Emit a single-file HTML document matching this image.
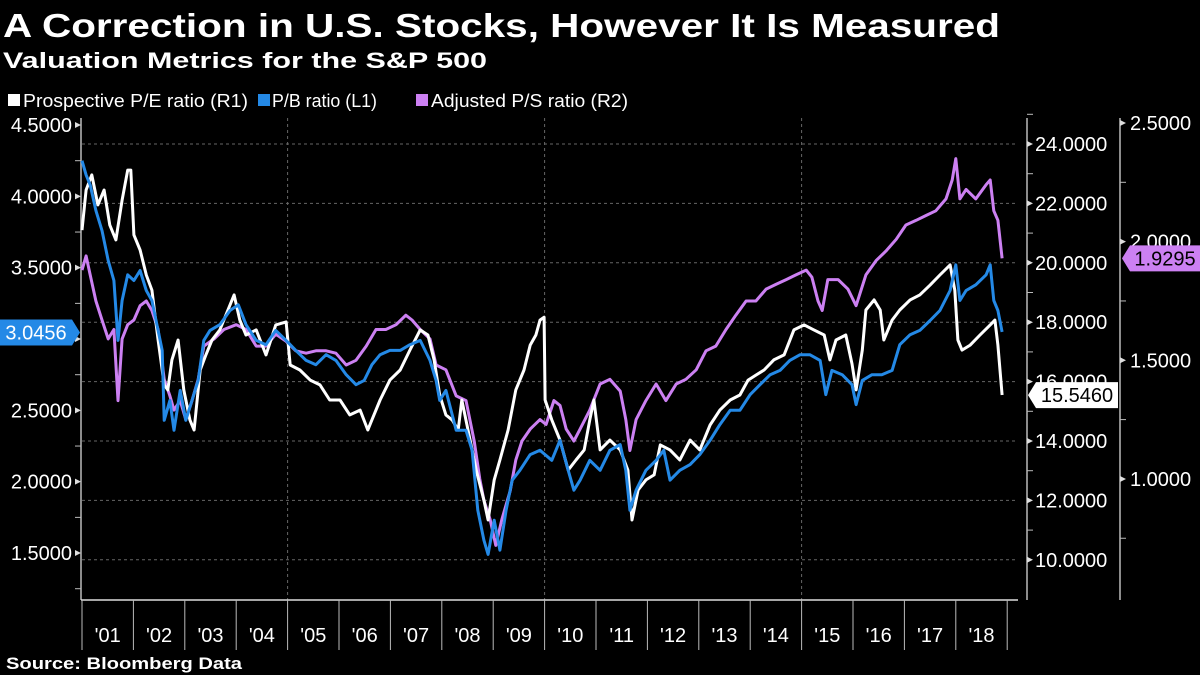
<!DOCTYPE html>
<html><head><meta charset="utf-8"><style>
html,body{margin:0;padding:0;background:#000;}
svg{display:block;font-family:"Liberation Sans",sans-serif;}
</style></head><body>
<svg id="chart" width="1200" height="675" viewBox="0 0 1200 675" xmlns="http://www.w3.org/2000/svg">
<rect x="0" y="0" width="1200" height="675" fill="#000"/>
<text x="3" y="37" fill="#fff" font-size="33" font-weight="bold" textLength="997" lengthAdjust="spacingAndGlyphs">A Correction in U.S. Stocks, However It Is Measured</text>
<text x="3" y="68" fill="#fff" font-size="22" font-weight="bold" textLength="484" lengthAdjust="spacingAndGlyphs">Valuation Metrics for the S&amp;P 500</text>
<g>
<g><rect x="8" y="94" width="12" height="12" fill="#fff"/><text x="23" y="107" fill="#fff" font-size="18" textLength="225" lengthAdjust="spacingAndGlyphs">Prospective P/E ratio (R1)</text></g>
<g><rect x="258" y="94" width="12" height="12" fill="#2489e6"/><text x="272" y="107" fill="#fff" font-size="18" textLength="105" lengthAdjust="spacingAndGlyphs">P/B ratio (L1)</text></g>
<g><rect x="416" y="94" width="12" height="12" fill="#cc80f2"/><text x="431" y="107" fill="#fff" font-size="18" textLength="197" lengthAdjust="spacingAndGlyphs">Adjusted P/S ratio (R2)</text></g>
</g>
<g id="grid"></g>
<g id="axes"></g>
<g id="series"></g>
<g id="tags"></g>
<text x="6" y="669" fill="#fff" font-size="17" font-weight="bold" textLength="236" lengthAdjust="spacingAndGlyphs">Source: Bloomberg Data</text>
</svg>
<script>
const pbDates=[2001.00,2001.08,2001.16,2001.27,2001.39,2001.51,2001.62,2001.70,2001.78,2001.89,2002.01,2002.13,2002.25,2002.36,2002.48,2002.56,2002.60,2002.71,2002.79,2002.91,2003.02,2003.14,2003.26,2003.37,2003.49,2003.68,2003.88,2004.04,2004.19,2004.39,2004.58,2004.77,2004.97,2005.16,2005.36,2005.55,2005.75,2005.94,2006.14,2006.33,2006.49,2006.64,2006.80,2006.99,2007.19,2007.38,2007.58,2007.77,2007.89,2007.96,2008.08,2008.28,2008.47,2008.59,2008.70,2008.82,2008.90,2009.02,2009.13,2009.25,2009.37,2009.52,2009.72,2009.91,2010.01,2010.14,2010.30,2010.46,2010.57,2010.69,2010.88,2011.08,2011.27,2011.47,2011.58,2011.66,2011.78,2011.97,2012.17,2012.32,2012.44,2012.63,2012.83,2013.02,2013.22,2013.41,2013.61,2013.80,2014.00,2014.19,2014.39,2014.58,2014.77,2014.97,2015.16,2015.36,2015.47,2015.59,2015.79,2015.98,2016.06,2016.18,2016.37,2016.56,2016.76,2016.91,2017.11,2017.30,2017.50,2017.69,2017.89,2018.00,2018.08,2018.20,2018.39,2018.59,2018.67,2018.74,2018.82,2018.90];
const pbValues=[4.25,4.15,4.08,3.90,3.76,3.55,3.41,2.99,3.27,3.45,3.41,3.48,3.34,3.27,3.06,2.92,2.43,2.57,2.36,2.64,2.43,2.57,2.71,2.99,3.06,3.10,3.20,3.24,3.10,2.99,2.96,3.06,2.99,2.92,2.85,2.82,2.89,2.85,2.75,2.68,2.71,2.82,2.89,2.92,2.92,2.96,2.99,2.85,2.71,2.57,2.64,2.36,2.36,2.22,1.80,1.59,1.49,1.73,1.52,1.80,2.01,2.08,2.19,2.22,2.19,2.15,2.29,2.08,1.94,2.01,2.15,2.08,2.22,2.26,2.08,1.80,1.94,2.08,2.15,2.22,2.01,2.08,2.12,2.19,2.29,2.40,2.50,2.50,2.61,2.68,2.75,2.78,2.85,2.89,2.89,2.85,2.61,2.78,2.75,2.68,2.54,2.71,2.75,2.75,2.78,2.96,3.03,3.06,3.13,3.20,3.34,3.52,3.27,3.34,3.38,3.45,3.52,3.27,3.20,3.05];
const peDates=[2001.00,2001.08,2001.19,2001.31,2001.43,2001.54,2001.66,2001.78,2001.89,2001.95,2002.01,2002.13,2002.25,2002.36,2002.48,2002.60,2002.67,2002.75,2002.87,2002.98,2003.10,2003.18,2003.30,2003.41,2003.53,2003.68,2003.96,2004.07,2004.19,2004.39,2004.58,2004.77,2004.97,2005.05,2005.24,2005.44,2005.63,2005.82,2006.02,2006.21,2006.41,2006.56,2006.64,2006.80,2006.99,2007.19,2007.38,2007.58,2007.73,2007.85,2007.96,2008.08,2008.20,2008.32,2008.39,2008.55,2008.67,2008.82,2008.90,2009.02,2009.13,2009.29,2009.44,2009.60,2009.72,2009.83,2009.91,2009.99,2010.01,2010.14,2010.30,2010.46,2010.61,2010.77,2010.88,2010.96,2011.08,2011.27,2011.47,2011.62,2011.70,2011.82,2011.97,2012.13,2012.25,2012.44,2012.63,2012.83,2013.02,2013.22,2013.41,2013.61,2013.80,2013.96,2014.11,2014.27,2014.46,2014.66,2014.85,2015.05,2015.24,2015.44,2015.55,2015.67,2015.86,2015.98,2016.06,2016.18,2016.25,2016.41,2016.53,2016.60,2016.76,2016.91,2017.11,2017.30,2017.50,2017.69,2017.89,2017.98,2018.04,2018.12,2018.28,2018.47,2018.67,2018.76,2018.82,2018.90];
const peValues=[21.10,22.45,22.96,21.95,22.45,21.27,20.77,22.11,23.12,23.12,20.94,20.43,19.59,19.08,17.40,15.89,15.72,16.73,17.40,15.72,14.71,14.37,16.39,16.90,17.40,17.74,18.92,18.07,17.57,17.74,16.90,17.91,18.01,16.56,16.39,16.05,15.89,15.38,15.38,14.88,15.04,14.37,14.71,15.38,16.05,16.39,17.06,17.74,17.57,16.73,15.55,14.88,14.71,14.37,15.38,14.03,13.02,12.01,11.34,12.69,13.36,14.37,15.72,16.39,17.23,17.57,18.07,18.17,15.38,14.71,14.03,13.02,13.36,13.70,14.71,15.38,13.70,14.03,13.70,13.02,11.34,12.35,12.69,12.86,13.87,13.70,13.36,14.03,13.70,14.54,15.04,15.38,15.55,16.05,16.22,16.39,16.73,16.90,17.74,17.91,17.74,17.57,16.73,17.40,17.57,16.60,15.72,17.06,18.41,18.75,18.41,17.40,18.07,18.41,18.75,18.92,19.25,19.59,19.93,19.08,17.40,17.06,17.23,17.57,17.91,18.07,17.23,15.55];
const psDates=[2001.00,2001.08,2001.16,2001.27,2001.39,2001.51,2001.62,2001.70,2001.78,2001.89,2002.01,2002.13,2002.25,2002.36,2002.48,2002.60,2002.71,2002.79,2002.91,2003.02,2003.14,2003.26,2003.37,2003.57,2003.76,2004.00,2004.19,2004.39,2004.58,2004.77,2004.97,2005.16,2005.36,2005.55,2005.75,2005.94,2006.14,2006.33,2006.53,2006.72,2006.91,2007.11,2007.30,2007.42,2007.58,2007.77,2007.89,2008.08,2008.28,2008.47,2008.63,2008.74,2008.82,2008.94,2009.05,2009.17,2009.33,2009.44,2009.56,2009.72,2009.91,2010.03,2010.18,2010.30,2010.42,2010.57,2010.69,2010.88,2011.08,2011.27,2011.47,2011.58,2011.66,2011.78,2011.97,2012.17,2012.36,2012.56,2012.75,2012.95,2013.14,2013.33,2013.53,2013.72,2013.92,2014.11,2014.31,2014.50,2014.70,2014.89,2015.09,2015.20,2015.32,2015.40,2015.51,2015.71,2015.90,2016.06,2016.25,2016.45,2016.64,2016.84,2017.03,2017.23,2017.42,2017.61,2017.81,2017.93,2018.00,2018.08,2018.20,2018.39,2018.59,2018.67,2018.74,2018.82,2018.90];
const psValues=[1.88,1.94,1.86,1.75,1.67,1.59,1.63,1.33,1.59,1.65,1.67,1.73,1.75,1.71,1.63,1.42,1.35,1.29,1.33,1.25,1.33,1.42,1.56,1.59,1.63,1.65,1.63,1.56,1.56,1.61,1.58,1.54,1.53,1.54,1.54,1.53,1.48,1.50,1.56,1.63,1.63,1.65,1.69,1.67,1.63,1.59,1.48,1.46,1.35,1.33,1.16,1.00,0.91,0.83,0.72,0.83,0.95,1.08,1.16,1.21,1.25,1.23,1.33,1.31,1.21,1.16,1.21,1.29,1.40,1.42,1.37,1.25,1.12,1.25,1.33,1.40,1.33,1.40,1.42,1.46,1.54,1.56,1.63,1.69,1.75,1.75,1.80,1.82,1.84,1.86,1.88,1.85,1.75,1.71,1.84,1.84,1.80,1.73,1.86,1.92,1.96,2.01,2.07,2.09,2.11,2.13,2.18,2.26,2.35,2.18,2.22,2.18,2.24,2.26,2.13,2.09,1.93];
const leftTicks=[1.5,2.0,2.5,3.0,3.5,4.0,4.5];
const leftLabels=["1.5000","2.0000","2.5000","","3.5000","4.0000","4.5000"];
const r1Ticks=[10,12,14,16,18,20,22,24];
const r1Labels=["10.0000","12.0000","14.0000","16.0000","18.0000","20.0000","22.0000","24.0000"];
const r2Ticks=[1.0,1.5,2.0,2.5];
const r2Labels=["1.0000","1.5000","2.0000","2.5000"];
const years=[2001,2002,2003,2004,2005,2006,2007,2008,2009,2010,2011,2012,2013,2014,2015,2016,2017,2018];
const yearLabels=["'01","'02","'03","'04","'05","'06","'07","'08","'09","'10","'11","'12","'13","'14","'15","'16","'17","'18"];
const gridYears=[2005,2010,2015];
const lastPB="3.0456", lastPS="1.9295", lastPE="15.5460";

const NS="http://www.w3.org/2000/svg";
const X0=82, PXY=51.4, PTOP=118, PBOT=600, PRIGHT=1018;
const xS=t=>X0+(t-2001)*PXY;
const yL=v=>125+(4.5-v)*142.67;
const yR1=v=>144+(24-v)*29.7;
const yR2=v=>123+(2.5-v)*237.3;
function mk(tag,attrs,parent){const e=document.createElementNS(NS,tag);for(const k in attrs)e.setAttribute(k,attrs[k]);parent.appendChild(e);return e;}
const grid=document.getElementById('grid'),axes=document.getElementById('axes'),series=document.getElementById('series'),tags=document.getElementById('tags');

r1Ticks.forEach(v=>{const l=mk('line',{x1:X0,x2:PRIGHT,y1:yR1(v),y2:yR1(v),stroke:'#666','stroke-width':1,'stroke-dasharray':'3,3'},grid);

});
gridYears.forEach(y=>{const l=mk('line',{x1:xS(y),x2:xS(y),y1:PTOP,y2:PBOT,stroke:'#666','stroke-width':1,'stroke-dasharray':'3,3'},grid);

});

let a=mk('line',{x1:81,x2:81,y1:PTOP,y2:PBOT,stroke:'#bbb','stroke-width':1.5},axes);


leftTicks.forEach((v,i)=>{const y=yL(v);
mk('path',{d:`M81 ${y} l-6 -3 v6 z`,fill:'#ddd'},axes);
mk('line',{x1:75,x2:81,y1:y+35.7,y2:y+35.7,stroke:'#bbb'},axes);
if(leftLabels[i]){const t=mk('text',{x:72,y:y+7,fill:'#fff','font-size':20,'text-anchor':'end'},axes);t.textContent=leftLabels[i];

}});
a=mk('line',{x1:1027,x2:1027,y1:PTOP,y2:PBOT,stroke:'#bbb','stroke-width':1.5},axes);


r1Ticks.forEach((v,i)=>{const y=yR1(v);
mk('path',{d:`M1027 ${y-3} l6 3 l-6 3 z`,fill:'#ddd'},axes);
mk('line',{x1:1027,x2:1033,y1:y-29.7,y2:y-29.7,stroke:'#bbb'},axes);
const t=mk('text',{x:1035,y:y+7,fill:'#fff','font-size':20},axes);t.textContent=r1Labels[i];

});
a=mk('line',{x1:1120,x2:1120,y1:PTOP,y2:PBOT,stroke:'#bbb','stroke-width':1.5},axes);


r2Ticks.forEach((v,i)=>{const y=yR2(v);
mk('path',{d:`M1120 ${y-3} l6 3 l-6 3 z`,fill:'#ddd'},axes);
mk('line',{x1:1120,x2:1126,y1:y+59.3,y2:y+59.3,stroke:'#bbb'},axes);
const t=mk('text',{x:1130,y:y+7,fill:'#fff','font-size':20},axes);t.textContent=r2Labels[i];

});
a=mk('line',{x1:81,x2:PRIGHT,y1:PBOT,y2:PBOT,stroke:'#ddd','stroke-width':1.5},axes);


years.forEach((yr,i)=>{const x=xS(yr);
mk('line',{x1:x,x2:x,y1:PBOT,y2:650,stroke:'#bbb'},axes);
const t=mk('text',{x:x+PXY/2,y:642,fill:'#fff','font-size':20,'text-anchor':'middle'},axes);t.textContent=yearLabels[i];

});
mk('line',{x1:xS(2019),x2:xS(2019),y1:PBOT,y2:650,stroke:'#bbb'},axes);

function drawLine(dates,vals,yf,color,name){
 const d=dates.map((t,i)=>(i?'L':'M')+xS(t).toFixed(1)+' '+yf(vals[i]).toFixed(1)).join(' ');
 const p=mk('path',{d:d,fill:'none',stroke:color,'stroke-width':3,'stroke-linejoin':'round'},series);
 
 
}
drawLine(psDates,psValues,yR2,'#cc80f2','ps-ratio-line');
drawLine(peDates,peValues,yR1,'#ffffff','pe-ratio-line');
drawLine(pbDates,pbValues,yL,'#2489e6','pb-ratio-line');

function tag(side,x,y,w,fill,txtFill,txt,name){
 const g=mk('g',{},tags);
 
 
 if(side==='left'){mk('path',{d:`M0 ${y-13} H${x-8} L${x} ${y} L${x-8} ${y+13} H0 Z`,fill:fill},g);
  const t=mk('text',{x:x-44,y:y+7,fill:txtFill,'font-size':20,'text-anchor':'middle'},g);t.textContent=txt;}
 else{mk('path',{d:`M${x} ${y} L${x+8} ${y-13} H${x+w} V${y+13} H${x+8} Z`,fill:fill},g);
  const t=mk('text',{x:x+8+(w-8)/2,y:y+7,fill:txtFill,'font-size':20,'text-anchor':'middle'},g);t.textContent=txt;}
}
tag('left',80,yL(+lastPB),0,'#2489e6','#fff',lastPB,'pb-last-value-tag');
tag('right',1122,yR2(+lastPS),78,'#cc80f2','#000',lastPS,'ps-last-value-tag');
tag('right',1028,yR1(+lastPE),90,'#ffffff','#000',lastPE,'pe-last-value-tag');
</script>
</body></html>
